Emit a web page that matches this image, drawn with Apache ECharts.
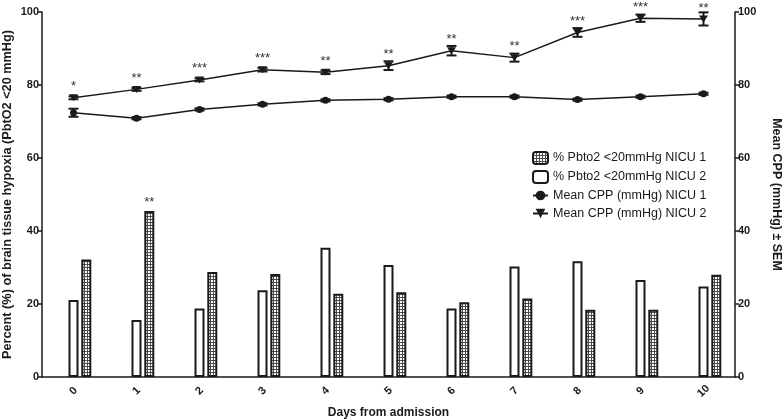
<!DOCTYPE html>
<html>
<head>
<meta charset="utf-8">
<script src="https://cdn.jsdelivr.net/npm/echarts@6/dist/echarts.min.js"></script>
<style>html,body{margin:0;padding:0;background:#fff}#c{width:784px;height:420px}</style>
</head>
<body>
<div id="c"></div>
<script>
// ---- data ----
var days = ['0','1','2','3','4','5','6','7','8','9','10'];
var yTicks = [0, 20, 40, 60, 80, 100];
var pctNicu1 = [32.2, 45.5, 28.8, 28.2, 22.8, 23.2, 20.5, 21.5, 18.4, 18.4, 28.0];   // hatched
var pctNicu2 = [21.1, 15.6, 18.8, 23.8, 35.4, 30.7, 18.8, 30.3, 31.7, 26.6, 24.8];   // white
var pctSig   = ['', '**', '', '', '', '', '', '', '', '', ''];
var cppNicu1 = [72.4, 70.9, 73.3, 74.7, 75.8, 76.1, 76.8, 76.8, 76.0, 76.8, 77.6];
var cppNicu1Sem = [1.1, 0.3, 0.3, 0.3, 0.3, 0.3, 0.3, 0.3, 0.3, 0.3, 0.3];
var cppNicu2 = [76.5, 78.8, 81.4, 84.2, 83.5, 85.3, 89.4, 87.5, 94.4, 98.3, 98.1];
var cppNicu2Sem = [0.4, 0.4, 0.4, 0.5, 0.5, 1.2, 1.3, 1.1, 1.2, 1.0, 1.8];
var cppSig = ['*', '**', '***', '***', '**', '**', '**', '**', '***', '***', '**'];

// ---- hatch pattern ----
var pc = document.createElement('canvas');
pc.width = 3; pc.height = 3;
var g = pc.getContext('2d');
g.fillStyle = '#ffffff'; g.fillRect(0, 0, 3, 3);
g.fillStyle = '#4a4a4a'; g.fillRect(0, 0, 3, 1); g.fillRect(0, 0, 1, 3);
var hatch = { image: pc, repeat: 'repeat' };

var ink = '#1a1a1a';
var font = 'Liberation Sans, Arial, sans-serif';

function errData(vals, sems) {
  return vals.map(function (v, i) { return [i, v - sems[i], v + sems[i]]; });
}
function errRender(params, api) {
  var x = api.value(0);
  var lo = api.coord([x, api.value(1)]);
  var hi = api.coord([x, api.value(2)]);
  var h = 5;
  var st = { stroke: ink, lineWidth: 2 };
  return { type: 'group', children: [
    { type: 'line', shape: { x1: lo[0], y1: lo[1], x2: hi[0], y2: hi[1] }, style: st },
    { type: 'line', shape: { x1: lo[0] - h, y1: lo[1], x2: lo[0] + h, y2: lo[1] }, style: st },
    { type: 'line', shape: { x1: hi[0] - h, y1: hi[1], x2: hi[0] + h, y2: hi[1] }, style: st }
  ]};
}

var yAxisCommon = {
  type: 'value', min: 0, max: 100, interval: 20,
  splitLine: { show: false },
  axisLine: { show: true, lineStyle: { color: ink, width: 1.5 } },
  axisTick: { show: true, length: 4, lineStyle: { color: ink, width: 1.5 } },
  axisLabel: { color: ink, fontFamily: font, fontWeight: 'bold', fontSize: 11, margin: 3 },
  nameLocation: 'middle',
  nameMoveOverlap: false
};

var chart = echarts.init(document.getElementById('c'));
chart.setOption({
  animation: false,
  backgroundColor: '#fff',
  grid: { left: 42, right: 49, top: 12, bottom: 43, containLabel: false, outerBoundsMode: 'none' },
  legend: {
    orient: 'vertical', left: 527, top: 146, itemGap: 5, itemWidth: 15, itemHeight: 12,
    data: ['% Pbto2 <20mmHg NICU 1', '% Pbto2 <20mmHg NICU 2', 'Mean CPP (mmHg) NICU 1', 'Mean CPP (mmHg) NICU 2'],
    textStyle: { color: ink, fontFamily: font, fontSize: 12.5 }
  },
  xAxis: {
    type: 'category', data: days, boundaryGap: true,
    name: 'Days from admission', nameLocation: 'middle', nameGap: 30,
    nameTextStyle: { color: ink, fontFamily: font, fontWeight: 'bold', fontSize: 12 },
    axisLine: { lineStyle: { color: ink, width: 1.5 } },
    axisTick: { alignWithLabel: true, length: 4, lineStyle: { color: ink, width: 1.5 } },
    axisLabel: { rotate: 45, align: 'center', verticalAlign: 'middle', color: ink, fontFamily: font, fontWeight: 'bold', fontSize: 11, margin: 14 }
  },
  yAxis: [
    Object.assign({}, yAxisCommon, { position: 'left', name: 'Percent (%) of brain tissue hypoxia (PbtO2 <20 mmHg)', nameGap: 28,
      nameTextStyle: { color: ink, fontFamily: font, fontWeight: 'bold', fontSize: 12.7 } }),
    Object.assign({}, yAxisCommon, { position: 'right', name: 'Mean CPP (mmHg) \u00b1 SEM', nameGap: 35, nameRotate: -90,
      nameTextStyle: { color: ink, fontFamily: font, fontWeight: 'bold', fontSize: 12.5 } })
  ],
  series: [
    { name: 'spacer', type: 'bar', yAxisIndex: 0, barWidth: 10, barGap: '28%', data: days.map(function () { return '-'; }), silent: true },
    { name: '% Pbto2 <20mmHg NICU 2', type: 'bar', yAxisIndex: 0, barWidth: 10, barGap: '28%', data: pctNicu2,
      itemStyle: { color: '#fff', borderColor: ink, borderWidth: 2 } },
    { name: '% Pbto2 <20mmHg NICU 1', type: 'bar', yAxisIndex: 0, barWidth: 10, barGap: '28%', data: pctNicu1,
      itemStyle: { color: hatch, borderColor: ink, borderWidth: 2 },
      label: { show: true, position: 'top', distance: 2, color: '#333', fontFamily: font, fontSize: 13,
        formatter: function (p) { return pctSig[p.dataIndex]; } } },
    { name: 'Mean CPP (mmHg) NICU 1', type: 'line', yAxisIndex: 1, data: cppNicu1,
      symbol: 'circle', symbolSize: 7, lineStyle: { color: ink, width: 1.5 }, itemStyle: { color: ink } },
    { name: 'Mean CPP (mmHg) NICU 2', type: 'line', yAxisIndex: 1, data: cppNicu2,
      symbol: 'triangle', symbolRotate: 180, symbolSize: [9, 7], lineStyle: { color: ink, width: 1.5 }, itemStyle: { color: ink },
      label: { show: true, position: 'top', distance: 1, color: '#333', fontFamily: font, fontSize: 13,
        formatter: function (p) { return cppSig[p.dataIndex]; } } },
    { name: 'err1', type: 'custom', yAxisIndex: 1, data: errData(cppNicu1, cppNicu1Sem), renderItem: errRender, z: 3, silent: true,
      encode: { x: 0, y: [1, 2] } },
    { name: 'err2', type: 'custom', yAxisIndex: 1, data: errData(cppNicu2, cppNicu2Sem), renderItem: errRender, z: 3, silent: true,
      encode: { x: 0, y: [1, 2] } }
  ]
});
</script>
</body>
</html>
